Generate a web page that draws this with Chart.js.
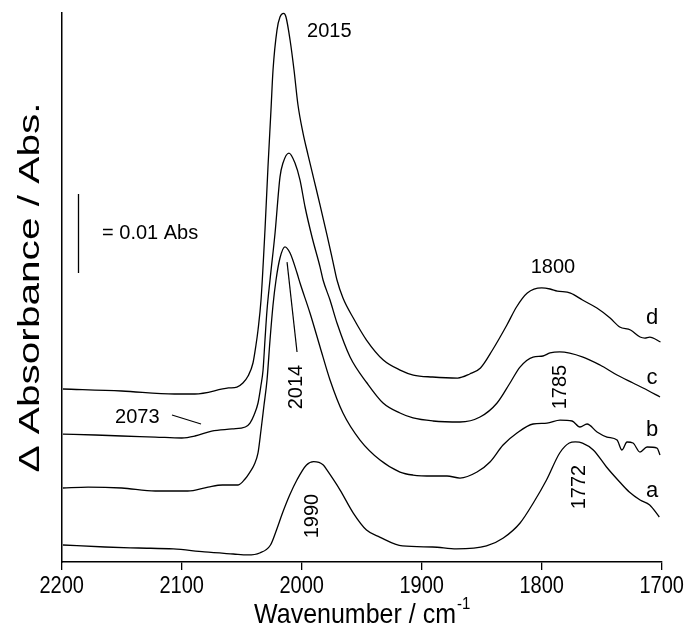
<!DOCTYPE html>
<html>
<head>
<meta charset="utf-8">
<script src="https://cdn.jsdelivr.net/npm/chart.js@4.4.0/dist/chart.umd.min.js"></script>
<style>
  html, body { margin: 0; padding: 0; background: #fff; }
  #wrap { width: 687px; height: 626px; }
</style>
</head>
<body>
<div id="wrap"><canvas id="spectra" width="687" height="626"></canvas></div>
<script>
// Difference spectra, stacked with offsets. x = wavenumber (cm-1), y = mAbs (offset included)
const wnA = [2199, 2164, 2136, 2107, 2081, 2057, 2045, 2035, 2026, 2021, 2016, 2010, 2004, 1996, 1990, 1982, 1979, 1968, 1957, 1946, 1935, 1916, 1891, 1871, 1846, 1832, 1818, 1807, 1796, 1785, 1777, 1772, 1766, 1757, 1746, 1735, 1727, 1718, 1710, 1702];
const absA = [2.15, 1.90, 1.77, 1.65, 1.27, 1.01, 0.89, 1.14, 2.15, 4.05, 6.20, 8.48, 10.38, 12.28, 12.70, 12.28, 11.65, 9.11, 6.20, 4.05, 3.16, 2.03, 1.90, 1.65, 2.03, 3.04, 4.94, 7.47, 10.38, 13.80, 15.06, 15.20, 15.06, 14.18, 12.03, 10.13, 8.86, 7.85, 7.22, 5.70];

const wnB = [2199, 2178, 2150, 2122, 2095, 2078, 2066, 2053, 2047.2, 2043.1, 2039.7, 2036.4, 2033.9, 2031.4, 2028.9, 2026.4, 2023.9, 2021.4, 2018.1, 2014, 2009.7, 2003.9, 2001.4, 1993.1, 1984.7, 1976.4, 1965.6, 1951.4, 1934.7, 1918.1, 1907.2, 1890.6, 1878.9, 1868.1, 1853.9, 1843.1, 1832.2, 1820.6, 1807.2, 1795.6, 1784.7, 1774.7, 1768.1, 1762.2, 1753.9, 1745.6, 1737.2, 1733.1, 1728.9, 1723.9, 1718.1, 1712.2, 1703.9, 1701.4];
const absB = [9.37, 9.49, 9.37, 8.99, 8.99, 9.49, 9.75, 9.75, 10.51, 11.39, 12.28, 13.80, 16.71, 19.87, 23.04, 28.10, 32.53, 35.70, 38.48, 39.90, 39.11, 36.58, 35.32, 31.52, 27.22, 23.04, 18.86, 15.44, 12.91, 11.39, 11.01, 10.89, 10.89, 10.63, 11.39, 12.66, 14.81, 16.33, 17.47, 17.59, 17.97, 17.85, 17.09, 17.47, 16.46, 15.82, 15.44, 14.18, 15.19, 15.06, 13.92, 14.56, 14.43, 13.54];

const wnC = [2199, 2172, 2150, 2122, 2100, 2089, 2075, 2058, 2047, 2043.1, 2039.7, 2036.4, 2033.9, 2032.2, 2030.6, 2028.9, 2026.4, 2022.2, 2018.1, 2015.6, 2010.6, 2005.6, 2001.4, 1997.2, 1991.4, 1984.7, 1982.2, 1976.4, 1970.6, 1959.7, 1945.6, 1932.2, 1918.1, 1907.2, 1890.6, 1868.1, 1851.4, 1837.2, 1826.4, 1818.1, 1807.2, 1798.9, 1793.1, 1785, 1765.6, 1751.4, 1737.2, 1723.9, 1712.2, 1701.4];
const absC = [16.20, 16.08, 15.95, 15.82, 15.70, 15.95, 16.58, 16.84, 17.09, 17.59, 18.61, 20.13, 22.41, 24.30, 28.10, 31.90, 35.70, 41.65, 48.73, 50.51, 51.77, 50.51, 48.35, 44.94, 41.14, 37.34, 35.70, 33.16, 30.25, 25.95, 22.66, 20.13, 18.86, 18.23, 17.85, 17.72, 18.35, 20.13, 22.66, 24.68, 25.95, 26.08, 26.46, 26.60, 25.95, 24.94, 23.67, 22.66, 21.77, 20.89];

const wnD = [2199, 2150, 2106, 2089, 2061, 2054, 2049, 2044.7, 2040.6, 2038.1, 2036.4, 2033.9, 2030.6, 2028.1, 2025.6, 2023.9, 2020.6, 2018.1, 2015, 2013.1, 2009.7, 2006.4, 2003.1, 1998.9, 1994.7, 1989.7, 1984.7, 1978.9, 1973.9, 1970.6, 1965.6, 1957, 1946, 1932, 1918, 1907, 1891, 1870, 1860, 1851, 1841, 1829, 1821, 1812, 1800, 1793, 1787, 1776, 1766, 1754, 1743, 1735, 1726, 1718, 1714, 1710, 1701];
const absD = [21.90, 21.65, 21.27, 21.27, 22.03, 22.15, 22.66, 23.54, 25.19, 27.47, 29.37, 33.16, 42.03, 50.00, 57.22, 62.28, 67.34, 68.99, 69.45, 68.99, 66.08, 62.28, 57.85, 54.30, 51.52, 48.35, 45.19, 41.39, 37.97, 35.70, 33.42, 30.89, 28.10, 25.57, 24.30, 23.67, 23.42, 23.29, 23.80, 24.56, 26.84, 30.00, 32.28, 34.05, 34.70, 34.56, 34.30, 34.05, 33.16, 32.15, 30.89, 29.75, 29.37, 28.48, 28.35, 28.48, 27.85];

const xTicks = [2200, 2100, 2000, 1900, 1800, 1700];

// scale bar: 0.01 Abs = 10 mAbs
const scaleBarWn = 2186;
const scaleBarFrom = 36.6;
const scaleBarSpan = 10;

// trace letters at the right end
const traceNames = ['a', 'b', 'c', 'd'];
const traceNameY = [8.99, 16.71, 23.29, 30.89];

// peak labels (text, wavenumber, mAbs, rotated)
const peakLabels = [
  { text: '2015', wn: 1977, y: 67.1, rot: false },
  { text: '2073', wn: 2137, y: 18.35, rot: false },
  { text: '2014', wn: 2004.7, y: 22.15, rot: true },
  { text: '1990', wn: 1991.4, y: 5.82, rot: true },
  { text: '1800', wn: 1790.6, y: 37.34, rot: false },
  { text: '1785', wn: 1784.7, y: 22.15, rot: true },
  { text: '1772', wn: 1768.1, y: 9.49, rot: true }
];

// leader lines [wn1, y1, wn2, y2]
const leaders = [
  [2108.1, 18.61, 2083.9, 17.47],
  [2012.2, 37.97, 2003.9, 26.58]
];

const FONT = '"Liberation Sans", Arial, sans-serif';

function toPoints(wn, abs) {
  return wn.map((w, i) => ({ x: w, y: abs[i] }));
}

function traceDataset(wn, abs) {
  return {
    data: toPoints(wn, abs),
    showLine: true,
    borderColor: '#000',
    borderWidth: 1.3,
    pointRadius: 0,
    cubicInterpolationMode: 'monotone',
    clip: false
  };
}

// text drawn with an optional stretch (axis text is a bit taller than wide)
function stretchedText(ctx, text, px, py, size, sx, sy, align, rot) {
  ctx.save();
  ctx.translate(px, py);
  if (rot) ctx.rotate(rot);
  ctx.scale(sx, sy);
  ctx.font = size + 'px ' + FONT;
  ctx.textAlign = align;
  ctx.textBaseline = 'alphabetic';
  ctx.fillText(text, 0, 0);
  ctx.restore();
}

// Labels, leaders, scale-bar text, tick labels and axis titles
const labelPlugin = {
  id: 'spectraLabels',
  afterDraw(chart) {
    const { ctx, chartArea } = chart;
    const x = chart.scales.x, y = chart.scales.y;
    ctx.save();
    ctx.fillStyle = '#000';
    ctx.strokeStyle = '#000';
    ctx.lineWidth = 1.2;

    peakLabels.forEach(p => {
      ctx.save();
      ctx.translate(x.getPixelForValue(p.wn), y.getPixelForValue(p.y));
      if (p.rot) ctx.rotate(-Math.PI / 2);
      ctx.font = '20px ' + FONT;
      ctx.textAlign = 'center';
      ctx.textBaseline = 'middle';
      ctx.fillText(p.text, 0, 0);
      ctx.restore();
    });

    leaders.forEach(l => {
      ctx.beginPath();
      ctx.moveTo(x.getPixelForValue(l[0]), y.getPixelForValue(l[1]));
      ctx.lineTo(x.getPixelForValue(l[2]), y.getPixelForValue(l[3]));
      ctx.stroke();
    });

    ctx.font = '22px ' + FONT;
    ctx.textAlign = 'center';
    ctx.textBaseline = 'middle';
    traceNames.forEach((n, i) => {
      ctx.fillText(n, x.getPixelForValue(1708), y.getPixelForValue(traceNameY[i]));
    });

    ctx.font = '20px ' + FONT;
    ctx.textAlign = 'left';
    ctx.fillText('= 0.01 Abs', x.getPixelForValue(2166.4), y.getPixelForValue(scaleBarFrom + scaleBarSpan / 2));

    // tick labels
    xTicks.forEach(v => {
      stretchedText(ctx, String(v), x.getPixelForValue(v), 593, 20, 1, 1.15, 'center');
    });

    // x axis title with superscript
    const cx = (chartArea.left + chartArea.right) / 2;
    const main = 'Wavenumber / cm', sup = '-1';
    ctx.font = '25px ' + FONT;
    const wMain = ctx.measureText(main).width;
    ctx.font = '15px ' + FONT;
    const wSup = ctx.measureText(sup).width;
    const x0 = cx - (wMain + wSup) / 2;
    stretchedText(ctx, main, x0, 623, 25, 1, 1.12, 'left');
    stretchedText(ctx, sup, x0 + wMain + 1, 609, 15, 1, 1.12, 'left');

    // y axis title
    stretchedText(ctx, '\u0394 Absorbance / Abs.', 39, (chartArea.top + chartArea.bottom) / 2,
      29, 1.4, 1, 'center', -Math.PI / 2);

    ctx.restore();
  }
};

const scaleBar = {
  data: [{ x: scaleBarWn, y: scaleBarFrom }, { x: scaleBarWn, y: scaleBarFrom + scaleBarSpan }],
  showLine: true,
  borderColor: '#000',
  borderWidth: 1.3,
  pointRadius: 0
};

new Chart(document.getElementById('spectra'), {
  type: 'scatter',
  data: {
    datasets: [
      traceDataset(wnA, absA),
      traceDataset(wnB, absB),
      traceDataset(wnC, absC),
      traceDataset(wnD, absD),
      scaleBar
    ]
  },
  options: {
    responsive: false,
    animation: false,
    devicePixelRatio: 1,
    layout: { padding: { left: 61.7, right: 25.3, top: 13, bottom: 0 } },
    plugins: { legend: { display: false }, tooltip: { enabled: false } },
    scales: {
      x: {
        type: 'linear',
        reverse: true,
        min: 1700,
        max: 2200,
        afterBuildTicks: axis => { axis.ticks = xTicks.map(v => ({ value: v })); },
        afterFit: axis => { axis.height = 64; },
        ticks: {
          color: 'rgba(0,0,0,0)',
          padding: 3,
          maxRotation: 0,
          font: { family: FONT, size: 20 },
          callback: v => String(v)
        },
        grid: { drawOnChartArea: false, drawTicks: true, tickLength: 8, color: '#000', lineWidth: 1.3 },
        border: { color: '#000', width: 1.5 }
      },
      y: {
        min: 0,
        max: 69.5,
        afterFit: axis => { axis.width = 0; },
        ticks: { display: false },
        grid: { display: false },
        border: { display: true, color: '#000', width: 1.5 }
      }
    }
  },
  plugins: [labelPlugin]
});
</script>
</body>
</html>
